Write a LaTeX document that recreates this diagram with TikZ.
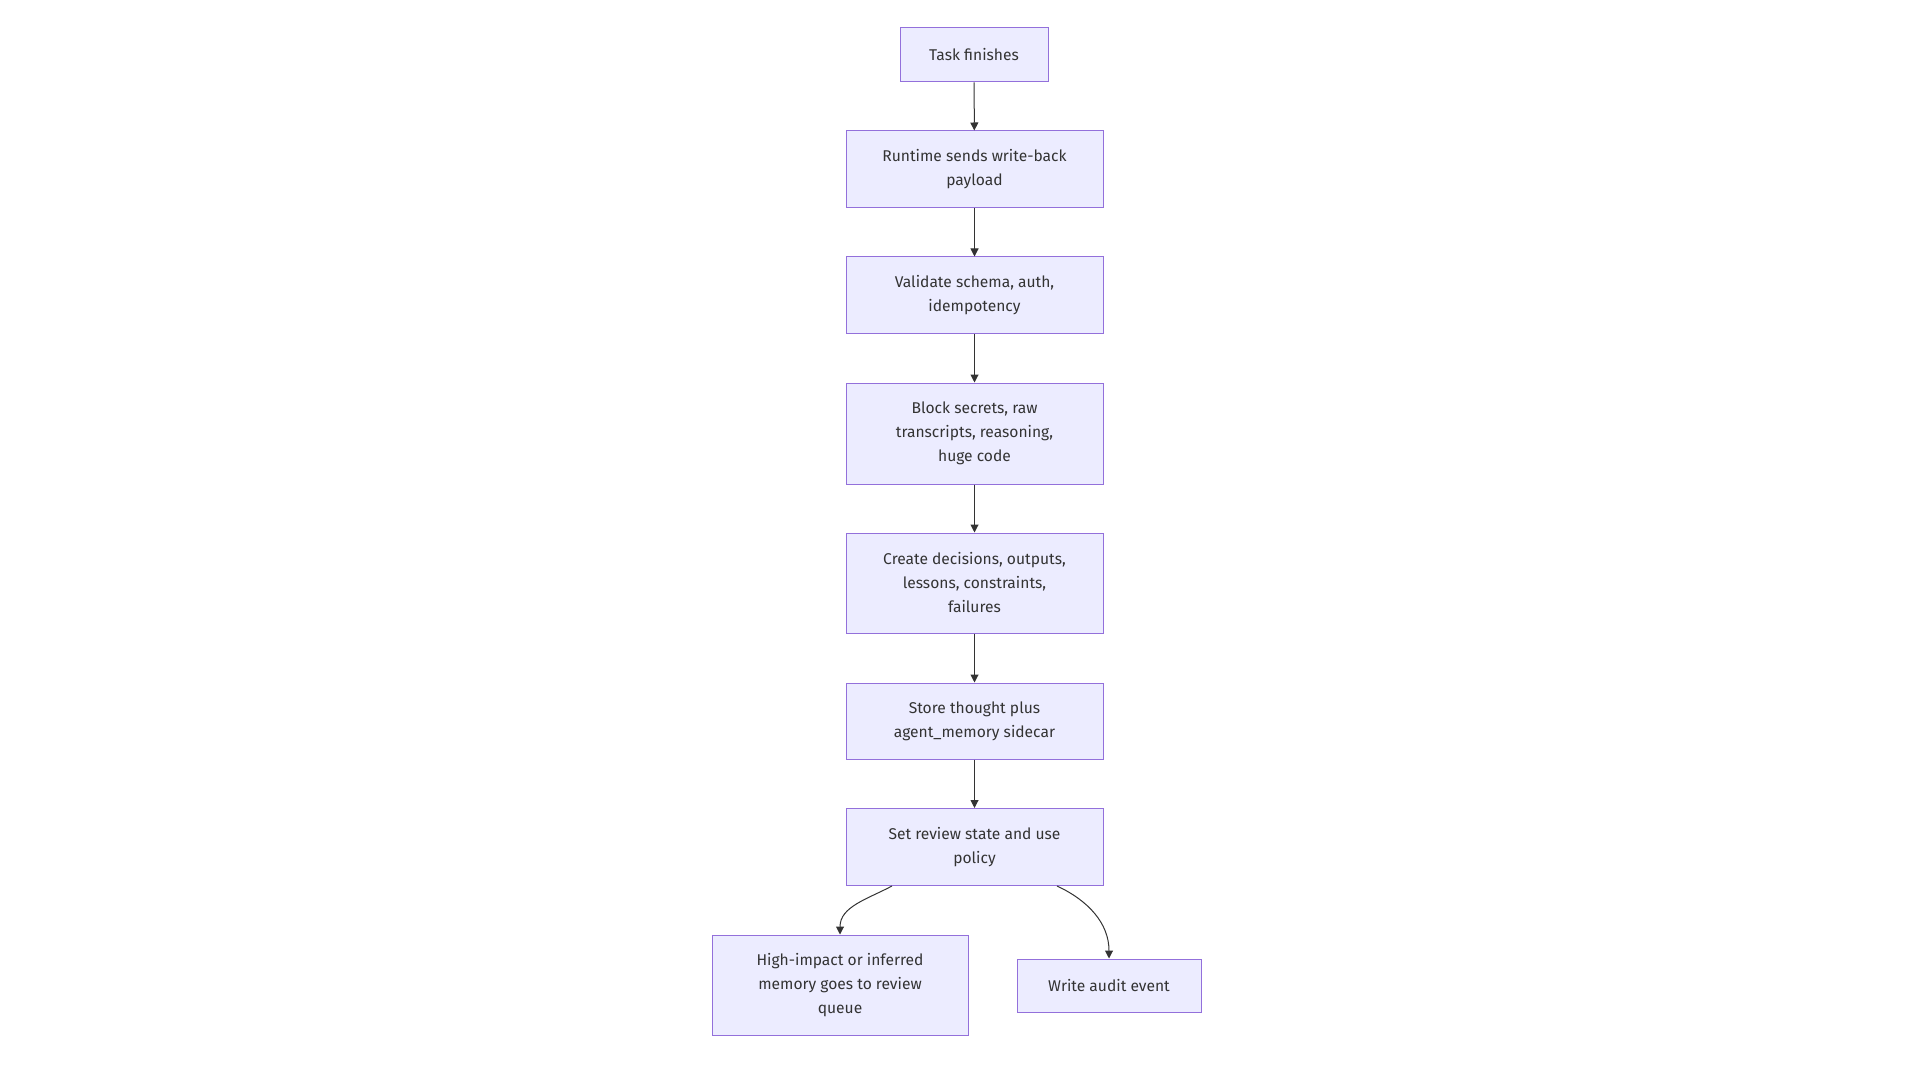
\documentclass[tikz,border=0pt]{standalone}
\usepackage{fontspec}
\setmainfont{Fira Sans}
\usepackage{tikz}
\usetikzlibrary{arrows.meta}

\definecolor{boxfill}{HTML}{ECECFF}
\definecolor{boxline}{HTML}{9370DB}
\definecolor{ink}{HTML}{333333}

\begin{document}
\begin{tikzpicture}[x=0.5pt, y=-0.5pt, -{Triangle[length=4pt,width=4pt]}, draw=ink, line width=0.5pt,
  step node/.style={rectangle, draw=boxline, fill=boxfill, text=ink, align=center, inner sep=0pt,
    font=\fontsize{7.8}{12}\selectfont, minimum width=128.5pt, minimum height=38.5pt}]

\useasboundingbox (0,0) rectangle (1920,1080);

\node[step node, minimum width=74pt, minimum height=27pt](task) at (974,55) {Task finishes};
\node[step node](send) at (974.5,169.5) {Runtime sends write-back\\payload};
\node[step node](check) at (974.5,295.5) {Validate schema, auth,\\idempotency};
\node[step node, minimum height=50.5pt](block) at (974.5,433.5) {Block secrets, raw\\transcripts, reasoning,\\huge code};
\node[step node, minimum height=50pt](create) at (974.5,583) {Create decisions, outputs,\\lessons, constraints,\\failures};
\node[step node, minimum height=38pt](store) at (974.5,721) {Store thought plus\\agent\_memory sidecar};
\node[step node](review) at (974.5,847) {Set review state and use\\policy};
\node[step node, minimum width=128pt, minimum height=50pt](queue) at (840,985) {High-impact or inferred\\memory goes to review\\queue};
\node[step node, minimum width=92pt, minimum height=26.5pt](audit) at (1109,985.5) {Write audit event};

\draw (task) -- (send);
\draw (send) -- (check);
\draw (check) -- (block);
\draw (block) -- (create);
\draw (create) -- (store);
\draw (store) -- (review);

\draw ([xshift=-41.25pt]review.south) to[out=-152, in=90] (queue.north);
\draw ([xshift=41.25pt]review.south) to[out=-25, in=90] (audit.north);

\end{tikzpicture}
\end{document}
